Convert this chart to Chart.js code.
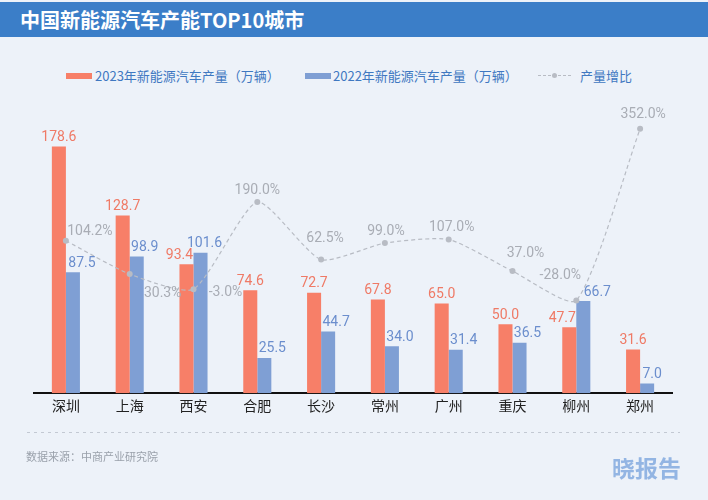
<!DOCTYPE html>
<html>
<head>
<meta charset="utf-8">
<script src="https://cdn.jsdelivr.net/npm/chart.js@4.4.0/dist/chart.umd.min.js"></script>
<style>
  html, body { margin: 0; padding: 0; }
  body { width: 708px; height: 500px; background: #edf2f9; position: relative; overflow: hidden;
         font-family: "Noto Sans CJK SC", "Noto Sans", sans-serif; }
  .header { position: absolute; left: 0; top: 2px; width: 708px; height: 35px; background: #3b7ec8; }
  .header span { position: absolute; left: 20px; top: 6px; color: #fff; font-size: 20px; font-weight: bold; line-height: 23px; }
  .legend { position: absolute; top: 66px; left: 0; height: 20px; font-size: 13px; color: #3f78c1; }
  .legend div { position: absolute; top: 0; white-space: nowrap; line-height: 20px; }
  .box { position: absolute; top: 7px; width: 26px; height: 6px; }
  .dash { position: absolute; left: 0; top: 9px; width: 34px; height: 1px;
          background: repeating-linear-gradient(90deg, #b8bcc4 0 3px, transparent 3px 5px); }
  .dot { position: absolute; left: 14px; top: 7px; width: 5px; height: 5px; border-radius: 50%; background: #b8bcc4; }
  #chart { position: absolute; left: 0; top: 0; }
  .rule { position: absolute; left: 27px; top: 432px; width: 653px; height: 1px;
          background: repeating-linear-gradient(90deg, #c3c9d3 0 3px, transparent 3px 7px); }
  .source { position: absolute; left: 26px; top: 448px; font-size: 11px; color: #9aa1ab; }
  .brand { position: absolute; left: 612px; top: 453px; font-size: 23px; font-weight: bold; color: #93b5e3; line-height: 28px; }
</style>
</head>
<body>
<div class="header"><span>中国新能源汽车产能TOP10城市</span></div>
<div class="legend">
  <div style="left:66px;width:200px;"><span class="box" style="left:0;background:#f77f68;"></span><span style="position:absolute;left:29px;">2023年新能源汽车产量（万辆）</span></div>
  <div style="left:305px;width:200px;"><span class="box" style="left:0;background:#7f9fd4;"></span><span style="position:absolute;left:28px;">2022年新能源汽车产量（万辆）</span></div>
  <div style="left:538px;width:100px;"><span class="dash"></span><span class="dot"></span><span style="position:absolute;left:42px;">产量增比</span></div>
</div>
<canvas id="chart" width="708" height="500"></canvas>
<div class="rule"></div>
<div class="source">数据来源：中商产业研究院</div>
<div class="brand">晓报告</div>
<script>
const cities = ['深圳', '上海', '西安', '合肥', '长沙', '常州', '广州', '重庆', '柳州', '郑州'];
const output2023 = [178.6, 128.7, 93.4, 74.6, 72.7, 67.8, 65.0, 50.0, 47.7, 31.6];
const output2022 = [87.5, 98.9, 101.6, 25.5, 44.7, 34.0, 31.4, 36.5, 66.7, 7.0];
const growth = [104.2, 30.3, -3.0, 190.0, 62.5, 99.0, 107.0, 37.0, -28.0, 352.0];

// label nudges (px) so the texts don't collide
const redLabelDx = [0, 0, -7, 0, 0, 0, 0, 0, -7, 0];
const blueLabelDx = [9, 8, 4, 8, 8, 8, 8, 8, 14, 5];
const growthLabelShift = [[24, -9], [33, 19], [32, 3], [0, -12], [4, -21], [1, -12], [3, -12], [13, -18], [-16, -25], [3, -14]];

const font = '"Noto Sans CJK SC", "Noto Sans", sans-serif';
const numFont = 'Roboto, "Noto Sans", sans-serif';

const valueLabels = {
  id: 'valueLabels',
  afterDatasetsDraw(chart) {
    const c = chart.ctx;
    c.save();
    c.font = '14px ' + numFont;
    c.textAlign = 'center';
    c.textBaseline = 'middle';
    const colors = ['#ef7a66', '#6b8ecd'];
    const shifts = [redLabelDx, blueLabelDx];
    [0, 1].forEach(d => {
      const meta = chart.getDatasetMeta(d);
      c.fillStyle = colors[d];
      meta.data.forEach((bar, i) => {
        c.fillText(chart.data.datasets[d].data[i].toFixed(1), bar.x + shifts[d][i], bar.y - 9);
      });
    });
    const lineMeta = chart.getDatasetMeta(2);
    c.fillStyle = '#a9adb5';
    lineMeta.data.forEach((pt, i) => {
      const s = growthLabelShift[i];
      c.fillText(growth[i].toFixed(1) + '%', pt.x + s[0], pt.y + s[1]);
    });
    c.restore();
  }
};

new Chart(document.getElementById('chart'), {
  type: 'bar',
  data: {
    labels: cities,
    datasets: [
      {
        label: '2023年新能源汽车产量（万辆）',
        data: output2023,
        backgroundColor: '#f77f68',
        categoryPercentage: 0.44,
        barPercentage: 1,
        yAxisID: 'y',
        order: 2
      },
      {
        label: '2022年新能源汽车产量（万辆）',
        data: output2022,
        backgroundColor: '#7f9fd4',
        categoryPercentage: 0.44,
        barPercentage: 1,
        yAxisID: 'y',
        order: 2
      },
      {
        type: 'line',
        label: '产量增比',
        data: growth,
        yAxisID: 'y1',
        borderColor: '#b8bcc4',
        borderWidth: 1.2,
        borderDash: [4, 3],
        tension: 0.2,
        pointRadius: 3,
        pointBackgroundColor: '#b8bcc4',
        pointBorderWidth: 0,
        order: 1
      }
    ]
  },
  options: {
    responsive: false,
    animation: false,
    layout: { padding: { left: 34, right: 36, top: 110, bottom: 82 } },
    plugins: { legend: { display: false }, tooltip: { enabled: false } },
    scales: {
      x: {
        grid: { display: false, drawTicks: false },
        border: { color: '#111', width: 2 },
        ticks: { color: '#222', font: { size: 14, family: font }, padding: 4 }
      },
      y: { display: false, min: 0, max: 205 },
      y1: { display: false, min: -233.5, max: 393.8 }
    }
  },
  plugins: [valueLabels]
});
</script>
</body>
</html>
